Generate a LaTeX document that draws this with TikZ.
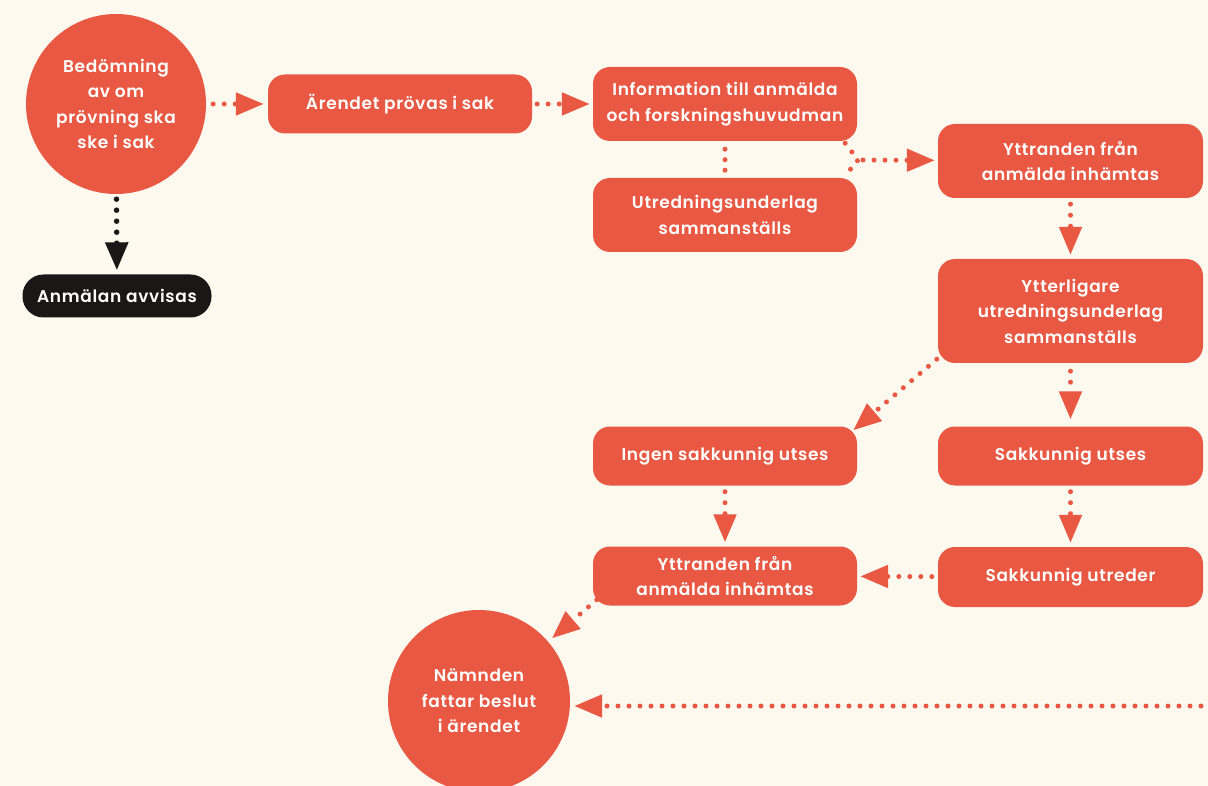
\documentclass[tikz,border=0pt]{standalone}
\usepackage{fontspec}
\setmainfont{Poppins}[BoldFont={Poppins SemiBold}, LetterSpace=4]
\usetikzlibrary{arrows.meta,calc}
\definecolor{bg}{HTML}{FEF9EF}
\definecolor{rd}{HTML}{E85842}
\definecolor{blk}{HTML}{191816}
\begin{document}
\begin{tikzpicture}[x=1pt,y=-1pt,
  lbl/.style={text=white, font=\bfseries\fontsize{17}{25.5}\selectfont, align=center},
  box/.style={lbl, fill=rd, rounded corners=17pt, minimum width=264pt, inner sep=0pt},
  circ/.style={lbl, circle, fill=rd, minimum size=180pt, inner sep=0pt},
  dotline/.style={draw=rd, line width=5pt, line cap=round, dash pattern=on 0pt off 11pt},
  arr/.style={dotline, -{Triangle[length=28pt,width=22pt]}},
]
\fill[bg] (0,0) rectangle (1208,786);
\useasboundingbox (0,0) rectangle (1208,786);

\node[circ] (bed) at (116,104) {Bedömning\\av om\\prövning ska\\ske i sak};
\node[box, fill=blk, minimum width=189pt, minimum height=43pt, rounded corners=21pt] (avv) at (117,296) {Anmälan avvisas};
\node[box, minimum height=59pt] (are) at (400,104) {Ärendet prövas i sak};
\node[box, minimum height=74pt] (info) at (725,104) {Information till anmälda\\och forskningshuvudman};
\node[box, minimum height=74pt] (utr) at (725,215) {Utredningsunderlag\\sammanställs};
\node[box, minimum width=265pt, minimum height=74pt] (ytt1) at (1070.5,161) {Yttranden från\\anmälda inhämtas};
\node[box, minimum width=265pt, minimum height=104pt] (ytl) at (1070.5,311) {Ytterligare\\utredningsunderlag\\sammanställs};
\node[box, minimum height=59pt] (ingen) at (725,456) {Ingen sakkunnig utses};
\node[box, minimum width=265pt, minimum height=59pt] (sakut) at (1070.5,456) {Sakkunnig utses};
\node[box, minimum height=59pt] (ytt2) at (725,576) {Yttranden från\\anmälda inhämtas};
\node[box, minimum width=265pt, minimum height=60pt] (sakutr) at (1070.5,577) {Sakkunnig utreder};
\node[circ, minimum size=182pt] (nam) at (479,701) {Nämnden\\fattar beslut\\i ärendet};

% connectors
\draw[arr, shorten <=7pt, shorten >=4pt] (bed) -- (are);
\draw[arr, draw=blk, line width=5.5pt, shorten <=5pt, shorten >=4pt] (bed) -- (avv);
\draw[arr, shorten <=5pt, shorten >=3pt] (are) -- (info);
\draw[dotline, dash pattern=on 0pt off 10.5pt, shorten <=8pt, shorten >=5pt] (info) -- (utr);
\coordinate (f1) at ($(info.south east)+(-12,2)$);
\coordinate (f2) at ($(utr.north east)+(-12,-2)$);
\coordinate (fork) at (858,160);
\draw[dotline] (f1) -- (fork) -- (f2);
\draw[arr, shorten <=5pt, shorten >=3pt] (fork) -- (ytt1);
\draw[arr, shorten <=6pt, shorten >=4pt] (ytt1) -- (ytl);
\coordinate (d1) at ($(ytl.south west)+(-1,-4)$);
\coordinate (d2) at ($(ingen.north east)+(-4,4)$);
\draw[arr] (d1) -- (d2);
\draw[arr, shorten <=8pt, shorten >=7pt] (ytl) -- (sakut);
\draw[arr, shorten <=6pt, shorten >=4pt] (ingen) -- (ytt2);
\draw[arr, shorten <=6pt, shorten >=4pt] (sakut) -- (sakutr);
\draw[arr, shorten <=6pt, shorten >=3pt] (sakutr) -- (ytt2);
\coordinate (d3) at ($(ytt2.south west)+(4,-6)$);
\draw[arr, shorten >=5pt] (d3) -- (nam);
\coordinate (edge) at (1212,706);
\draw[arr, shorten >=4pt] (edge) -- (edge -| nam.east);
\end{tikzpicture}
\end{document}
